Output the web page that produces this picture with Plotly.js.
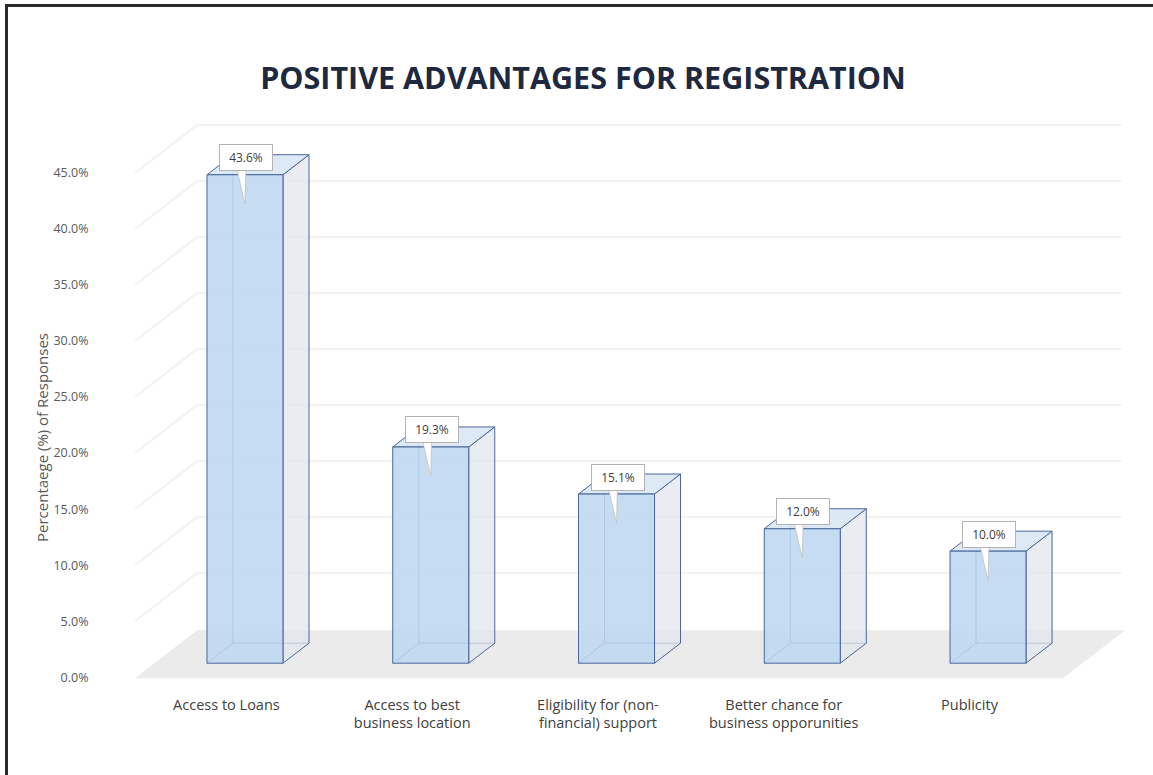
<!DOCTYPE html>
<html>
<head>
<meta charset="utf-8">
<script src="https://cdn.plot.ly/plotly-3.0.1.min.js"></script>
<style>
  html, body { margin: 0; padding: 0; background: #ffffff; }
  #wrap { position: relative; width: 1153px; height: 775px; overflow: hidden; }
  #chart { position: absolute; left: 0; top: 0; width: 1153px; height: 775px; }
  #frame { position: absolute; left: 5px; top: 4px; width: 1160px; height: 800px;
           border-top: 3px solid #2a2a2a; border-left: 3px solid #2a2a2a; pointer-events: none; }
</style>
</head>
<body>
<div id="wrap">
  <div id="chart"></div>
  <div id="frame"></div>
</div>
<script>
// ---- data ----
const categories = [
  "Access to Loans",
  "Access to best<br>business location",
  "Eligibility for (non-<br>financial) support",
  "Better chance for<br>business opporunities",
  "Publicity"
];
const values = [43.6, 19.3, 15.1, 12.0, 10.0];
const valueLabels = ["43.6%", "19.3%", "15.1%", "12.0%", "10.0%"];
const yTickValues = [0, 5, 10, 15, 20, 25, 30, 35, 40, 45];
const yTickLabels = ["0.0%", "5.0%", "10.0%", "15.0%", "20.0%", "25.0%", "30.0%", "35.0%", "40.0%", "45.0%"];
const titleText = "POSITIVE ADVANTAGES FOR REGISTRATION";
const yTitleText = "Percentaege (%) of Responses";

// ---- pseudo-3D geometry (in axis units) ----
const idx = categories.map((_, i) => i);
const HALF_W = 0.2046;      // half bar width
const DEPTH_X = 0.14;       // bar depth offset, x units
const DEPTH_Y = 1.786;      // bar depth offset, y units
const BAR_BASE = 1.25;      // front face base (floor perspective)
const WALL_DX = 0.334;      // floor front -> back wall, x units
const WALL_DY = 4.29;       // floor front -> back wall, y units
const FLOOR_LEFT = -0.592, FLOOR_RIGHT = 4.404, FLOOR_FRONT = -0.09;
const EDGE = "#4a679a";

const shapes = [];
// floor
shapes.push({
  type: "path", xref: "x", yref: "y", layer: "below",
  path: `M${FLOOR_LEFT},${FLOOR_FRONT} L${FLOOR_RIGHT},${FLOOR_FRONT} L${FLOOR_RIGHT + WALL_DX},${FLOOR_FRONT + WALL_DY} L${FLOOR_LEFT + WALL_DX},${FLOOR_FRONT + WALL_DY} Z`,
  fillcolor: "#ebebeb", line: { width: 0 }
});
// gridlines on left + back walls
yTickValues.forEach(v => {
  if (v === 0) return;
  shapes.push({
    type: "path", xref: "x", yref: "y", layer: "below",
    path: `M${FLOOR_LEFT},${v} L${FLOOR_LEFT + WALL_DX},${v + WALL_DY} L${FLOOR_RIGHT + WALL_DX - 0.02},${v + WALL_DY}`,
    line: { color: "#f2f2f2", width: 2 }
  });
});
// bar side/top/back edges
idx.forEach(i => {
  const xl = i - HALF_W, xr = i + HALF_W;
  const yb = BAR_BASE, yt = values[i] + BAR_BASE;
  shapes.push({
    type: "path", xref: "x", yref: "y", layer: "below",
    path: `M${xl},${yb} L${xl + DEPTH_X},${yb + DEPTH_Y} L${xr + DEPTH_X},${yb + DEPTH_Y} M${xl + DEPTH_X},${yb + DEPTH_Y} L${xl + DEPTH_X},${yt + DEPTH_Y}`,
    line: { color: EDGE, width: 1 }
  });
  shapes.push({
    type: "path", xref: "x", yref: "y", layer: "below",
    path: `M${xr},${yb} L${xr + DEPTH_X},${yb + DEPTH_Y} L${xr + DEPTH_X},${yt + DEPTH_Y} L${xr},${yt} Z`,
    fillcolor: "rgba(225,230,236,0.75)", line: { color: EDGE, width: 1 }
  });
  shapes.push({
    type: "path", xref: "x", yref: "y", layer: "below",
    path: `M${xl},${yt} L${xr},${yt} L${xr + DEPTH_X},${yt + DEPTH_Y} L${xl + DEPTH_X},${yt + DEPTH_Y} Z`,
    fillcolor: "rgba(218,231,245,0.9)", line: { color: EDGE, width: 1 }
  });
  // callout tail
  shapes.push({
    type: "path", xref: "x", yref: "y", layer: "above",
    path: `M${i - 0.045},${yt + 0.6} L${i + 0.005},${yt + 0.6} L${i},${yt - 2.6} Z`,
    fillcolor: "#ffffff", line: { color: "#c0c0c0", width: 0.8 }
  });
});

const annotations = idx.map(i => ({
  x: i, y: values[i] + BAR_BASE, xref: "x", yref: "y",
  text: valueLabels[i], showarrow: false, yshift: 17, xshift: 1,
  bgcolor: "#ffffff", bordercolor: "#b3b3b3", borderwidth: 1, borderpad: 4,
  width: 44,
  font: { family: "Open Sans", size: 12, color: "#404040" }
}));
annotations.push({
  xref: "paper", yref: "paper", x: (42 - 96) / 1044, y: (694 - 438) / 633,
  text: yTitleText, showarrow: false, textangle: -90,
  xanchor: "center", yanchor: "middle",
  font: { family: "Open Sans", size: 15, color: "#595959" }
});

const trace = {
  type: "bar",
  x: idx, y: values, base: BAR_BASE, width: HALF_W * 2,
  marker: { color: "rgba(189,215,240,0.88)", line: { color: EDGE, width: 1 } },
  hoverinfo: "skip", showlegend: false
};

const layout = {
  width: 1153, height: 775,
  margin: { l: 96, r: 13, t: 61, b: 81, pad: 0 },
  paper_bgcolor: "#ffffff", plot_bgcolor: "rgba(0,0,0,0)",
  title: {
    text: titleText, x: 583 / 1153, xanchor: "center", xref: "container",
    y: 1 - 78 / 775, yanchor: "middle", yref: "container",
    font: { family: "Open Sans", size: 30.5, weight: 700, color: "#1e293f" }
  },
  xaxis: {
    range: [-0.802, 4.818], tickmode: "array",
    tickvals: idx.map(i => i - 0.1), ticktext: categories,
    showgrid: false, zeroline: false, showline: false, ticks: "",
    tickfont: { family: "Open Sans", size: 14.5, color: "#404040" }
  },
  yaxis: {
    range: [-1.5, 55], tickmode: "array", tickvals: yTickValues, ticktext: yTickLabels,
    showgrid: false, zeroline: false, showline: false,
    ticks: "outside", ticklen: 4, tickcolor: "rgba(0,0,0,0)",
    tickfont: { family: "Open Sans", size: 12.5, color: "#595959" }
  },
  shapes: shapes,
  annotations: annotations,
  bargap: 0
};

Plotly.newPlot("chart", [trace], layout, { displayModeBar: false, staticPlot: true });
</script>
</body>
</html>
